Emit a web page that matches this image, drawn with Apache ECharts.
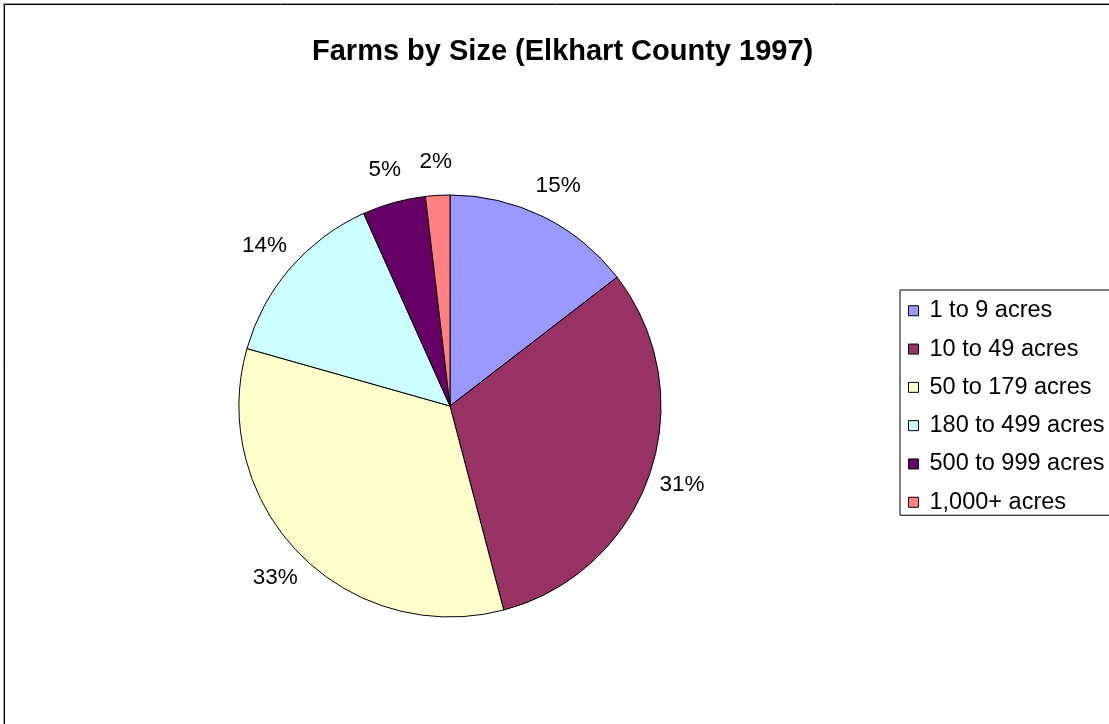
<!DOCTYPE html>
<html><head><meta charset="utf-8">
<script src="https://cdn.jsdelivr.net/npm/echarts@6/dist/echarts.min.js"></script>
<style>html,body{margin:0;padding:0;background:#fff;overflow:hidden}#c{width:1109px;height:724px}</style>
</head><body><div id="c"></div>
<script>
const titleText = 'Farms by Size (Elkhart County 1997)';
const categories = ['1 to 9 acres', '10 to 49 acres', '50 to 179 acres', '180 to 499 acres', '500 to 999 acres', '1,000+ acres'];
const shares = [14.55, 31.35, 33.49, 13.9, 4.85, 1.86];
const colors = ['#9999FF', '#993366', '#FFFFCC', '#CCFFFF', '#660066', '#FF8080'];

const FONT = '"Liberation Sans", Arial, sans-serif';
const chart = echarts.init(document.getElementById('c'), null, { renderer: 'canvas' });

chart.setOption({
  animation: false,
  backgroundColor: '#ffffff',
  color: colors,
  title: {
    text: titleText,
    left: 307,
    top: 32,
    textStyle: { fontFamily: FONT, fontSize: 29, fontWeight: 'bold', color: '#000' }
  },
  legend: {
    orient: 'vertical',
    left: 900,
    top: 290,
    padding: [8.75, 30, 1, 8],
    borderColor: '#000',
    borderWidth: 1,
    itemWidth: 10,
    itemHeight: 10,
    itemGap: 14.3,
    icon: 'rect',
    itemStyle: { borderColor: '#000', borderWidth: 1 },
    textStyle: { fontFamily: FONT, fontSize: 23.5, lineHeight: 23.5, color: '#000', padding: [0, 0, 0, 6] },
    data: categories
  },
  graphic: [
    { type: 'rect', silent: true, shape: { x: 3.5, y: 3.5, width: 1300, height: 900 }, style: { fill: 'none', stroke: '#999', lineWidth: 1 } },
    { type: 'rect', silent: true, shape: { x: 4.5, y: 4.5, width: 1300, height: 900 }, style: { fill: 'none', stroke: '#000', lineWidth: 1 } }
  ],
  series: [{
    type: 'pie',
    center: [450, 406],
    radius: 211,
    startAngle: 90,
    clockwise: true,
    avoidLabelOverlap: false,
    percentPrecision: 0,
    itemStyle: { borderColor: '#000', borderWidth: 1 },
    emphasis: { disabled: true },
    label: {
      show: true,
      position: 'outside',
      formatter: '{d}%',
      fontFamily: FONT,
      fontSize: 22.5,
      color: '#000',
      distanceToLabelLine: 0
    },
    labelLine: { show: false, length: 34, length2: 0 },
    labelLayout: function (p) {
      const r = p.labelRect;
      const ax = p.align === 'left' ? r.x : (p.align === 'right' ? r.x + r.width : r.x + r.width / 2);
      return { x: ax, y: r.y + r.height / 2, align: 'center', verticalAlign: 'middle' };
    },
    data: categories.map((n, i) => ({ name: n, value: shares[i] }))
  }]
});
</script>
</body></html>
